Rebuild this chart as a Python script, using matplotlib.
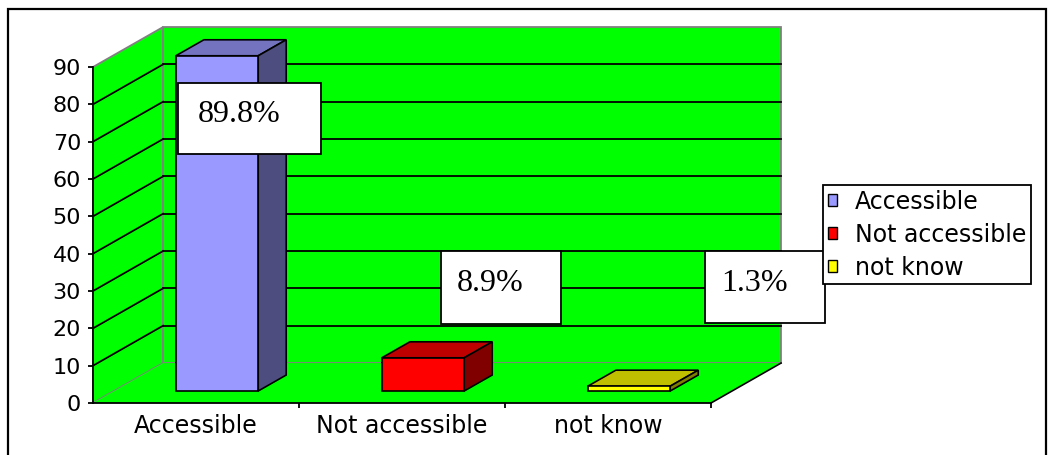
"""
Accessibility survey - Excel style 3D column chart redrawn with matplotlib
"""

import matplotlib
matplotlib.use('Agg')
import matplotlib.pyplot as plt
from matplotlib.patches import Polygon, Rectangle, Patch

# data
categories = ['Accessible', 'Not accessible', 'not know']
values = [89.8, 8.9, 1.3]
value_labels = ['89.8%', '8.9%', '1.3%']
y_ticks = [0, 10, 20, 30, 40, 50, 60, 70, 80, 90]

# colours per bar: front, top, side
front_colors = ['#9999FF', '#FF0000', '#FFFF00']
top_colors = ['#7373C0', '#BF0000', '#BFBF00']
side_colors = ['#4D4D80', '#800000', '#808000']

GREEN = '#00FF00'
WALL_EDGE = '#808080'

# depth of the 3d box in data units (x in categories, y in values)
DX = 0.34
DY = 10.7
BAR_W = 0.4
D0, D1 = 0.3, 0.7   # bar front/back as fraction of depth

fig = plt.figure(figsize=(10.51, 4.55), dpi=100)
ax = fig.add_axes([93 / 1051, 52 / 455, 618 / 1051, 336 / 455])
ax.set_xlim(-0.5, 2.5)
ax.set_ylim(0, 90)
ax.patch.set_visible(False)

ymax = y_ticks[-1]
x_lo, x_hi = -0.5, len(categories) - 0.5


def poly(pts, fc, ec, lw=1.0, z=1):
    p = Polygon(pts, closed=True, facecolor=fc, edgecolor=ec, linewidth=lw,
                clip_on=False, zorder=z)
    ax.add_patch(p)
    return p


# walls and floor
poly([(x_lo, 0), (x_lo, ymax), (x_lo + DX, ymax + DY), (x_lo + DX, DY)], GREEN, WALL_EDGE, lw=1.3, z=1)
poly([(x_lo + DX, DY), (x_lo + DX, ymax + DY), (x_hi + DX, ymax + DY), (x_hi + DX, DY)], GREEN, WALL_EDGE, lw=1.3, z=1)
poly([(x_lo, 0), (x_hi, 0), (x_hi + DX, DY), (x_lo + DX, DY)], GREEN, 'none', z=1)
ax.plot([x_hi, x_hi + DX], [0, DY], color='black', lw=1.2, clip_on=False, zorder=2)

# gridlines on side wall and back wall
for v in y_ticks[1:-1]:
    ax.plot([x_lo, x_lo + DX], [v, v + DY], color='black', lw=1.3, clip_on=False, zorder=2)
    ax.plot([x_lo + DX, x_hi + DX], [v + DY, v + DY], color='black', lw=1.3, clip_on=False, zorder=2)

# bars
for i, val in enumerate(values):
    x0 = i - BAR_W / 2 + D0 * DX
    x1 = x0 + BAR_W
    b = D0 * DY
    h = val + D0 * DY
    ddx = (D1 - D0) * DX
    ddy = (D1 - D0) * DY
    poly([(x0, h), (x1, h), (x1 + ddx, h + ddy), (x0 + ddx, h + ddy)], top_colors[i], 'black', lw=1.2, z=3)
    poly([(x1, b), (x1, h), (x1 + ddx, h + ddy), (x1 + ddx, b + ddy)], side_colors[i], 'black', lw=1.2, z=3)
    poly([(x0, b), (x1, b), (x1, h), (x0, h)], front_colors[i], 'black', lw=1.2, z=3)

# data label boxes (moved by hand in the original)
label_pos = [(0.26, 76.2), (1.48, 30.9), (2.76, 31.1)]
label_size = [(0.694, 19.0), (0.583, 19.5), (0.583, 19.3)]
for (cx, cy), (w, hgt), txt in zip(label_pos, label_size, value_labels):
    ax.add_patch(Rectangle((cx - w / 2, cy - hgt / 2), w, hgt, facecolor='white',
                           edgecolor='black', linewidth=1.3, clip_on=False, zorder=5))
    ax.text(cx - 0.05, cy + 1.0, txt, ha='center', va='center', fontsize=23,
            family='Liberation Serif', zorder=6, clip_on=False)

# axes
for s in ['top', 'right']:
    ax.spines[s].set_visible(False)
for s in ['left', 'bottom']:
    ax.spines[s].set_color('black')
    ax.spines[s].set_linewidth(1.3)
    ax.spines[s].set_zorder(4)

ax.set_yticks(y_ticks)
ax.set_yticklabels([str(t) for t in y_ticks])
ax.tick_params(axis='y', direction='out', length=3.6, width=1.3, pad=5, labelsize=16)
ax.set_xticks(range(len(categories)))
ax.set_xticklabels(categories)
ax.set_xticks([0.5, 1.5, 2.5], minor=True)
ax.tick_params(axis='x', which='major', length=0, pad=8, labelsize=17)
ax.tick_params(axis='x', which='minor', direction='out', length=3.6, width=1.3)
for lab in ax.get_xticklabels() + ax.get_yticklabels():
    lab.set_family('DejaVu Sans')

# legend
handles = [Patch(facecolor=c, edgecolor='black', linewidth=1.0) for c in front_colors]
leg = fig.legend(handles, categories, loc='upper left',
                 bbox_to_anchor=(823 / 1051, 1 - 185 / 455), bbox_transform=fig.transFigure,
                 fontsize=17, handlelength=0.4, handleheight=0.4, handletextpad=0.75,
                 borderpad=0.2, labelspacing=0.38, borderaxespad=0,
                 fancybox=False, framealpha=1, edgecolor='black')
leg.get_frame().set_linewidth(1.3)

# outer chart border
fig.patches.append(Rectangle((8 / 1051, -0.05), 1038 / 1051, 1 - 9 / 455 + 0.05,
                             transform=fig.transFigure, facecolor='none',
                             edgecolor='black', linewidth=1.6))

plt.savefig('out.png', dpi=100)
